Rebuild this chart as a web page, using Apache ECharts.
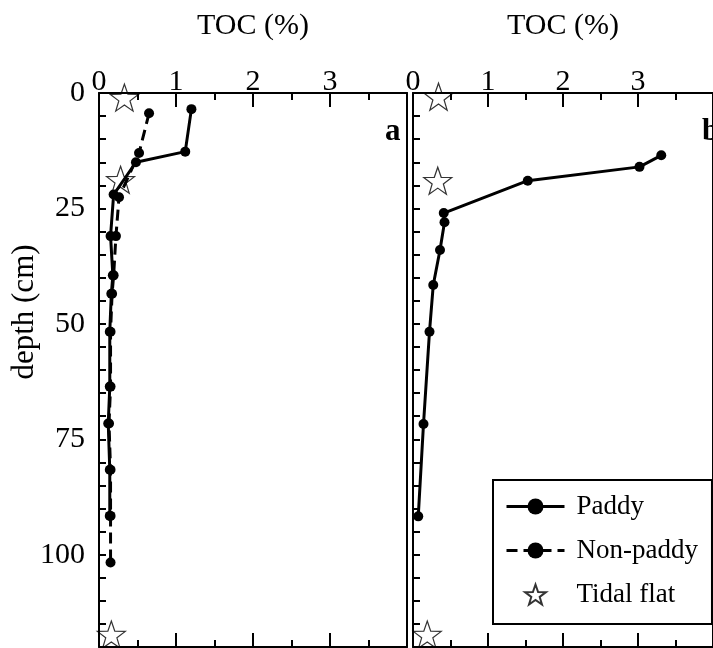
<!DOCTYPE html>
<html>
<head>
<meta charset="utf-8">
<script src="https://cdn.jsdelivr.net/npm/echarts@6/dist/echarts.min.js"></script>
<style>html,body{margin:0;padding:0;background:#fff;}#c{width:713px;height:648px;}</style>
</head>
<body>
<div id="c"></div>
<script>
// Panel a
const paddyA_depth = [3.5, 12.7, 15, 22, 31, 39.5, 43.5, 51.7, 63.6, 71.6, 81.6, 91.6];
const paddyA_toc   = [1.20, 1.12, 0.48, 0.19, 0.15, 0.18, 0.16, 0.14, 0.14, 0.12, 0.14, 0.14];
const nonPaddyA_depth = [4.4, 13, 22.6, 31, 39.5, 43.5, 51.7, 63.6, 71.6, 81.6, 91.6, 101.7];
const nonPaddyA_toc   = [0.65, 0.52, 0.26, 0.22, 0.19, 0.17, 0.15, 0.15, 0.13, 0.15, 0.15, 0.15];
const tidalA_depth = [1, 18.8, 117.3];
const tidalA_toc   = [0.33, 0.28, 0.16];
// Panel b
const paddyB_depth = [13.5, 16, 19, 26, 28, 34, 41.6, 51.7, 71.7, 91.7];
const paddyB_toc   = [3.31, 3.02, 1.53, 0.41, 0.42, 0.36, 0.27, 0.22, 0.14, 0.07];
const tidalB_depth = [0.8, 19, 117.3];
const tidalB_toc   = [0.34, 0.33, 0.19];
const xTicks = [0, 1, 2, 3];
const yTicks = [0, 25, 50, 75, 100];

const pair = (xs, ys) => xs.map((x, i) => [x, ys[i]]);
const FONT = 'Liberation Serif';
const STAR = 'path://M0,-10 L2.35,-3.24 L9.51,-3.09 L3.8,1.24 L5.88,8.09 L0,4 L-5.88,8.09 L-3.8,1.24 L-9.51,-3.09 L-2.35,-3.24 Z';

const chart = echarts.init(document.getElementById('c'));
const axLine = {show: true, onZero: false, lineStyle: {color: '#000', width: 2}};
function xTop(g, name) {
  return {
    gridIndex: g, type: 'value', position: 'top', min: 0, max: 4, interval: 1,
    name: name, nameLocation: 'middle', nameGap: 52,
    nameTextStyle: {fontFamily: FONT, fontSize: 30, color: '#000'},
    axisLine: axLine,
    axisTick: {show: true, inside: true, length: 14, lineStyle: {color: '#000', width: 2}},
    minorTick: {show: true, splitNumber: 2, length: 7, lineStyle: {color: '#000', width: 2}},
    axisLabel: {show: true, margin: -4, fontFamily: FONT, fontSize: 30, color: '#000',
      showMaxLabel: false,
      formatter: v => xTicks.indexOf(v) >= 0 ? String(v) : ''},
    splitLine: {show: false}, minorSplitLine: {show: false}
  };
}
function xBottom(g) {
  return {
    gridIndex: g, type: 'value', position: 'bottom', min: 0, max: 4, interval: 1,
    axisLine: axLine,
    axisTick: {show: true, inside: true, length: 14, lineStyle: {color: '#000', width: 2}},
    minorTick: {show: true, splitNumber: 2, length: 7, lineStyle: {color: '#000', width: 2}},
    axisLabel: {show: false}, splitLine: {show: false}
  };
}
function yLeft(g, labels) {
  return {
    gridIndex: g, type: 'value', position: 'left', inverse: true, min: 0, max: 120, interval: 5,
    axisLine: axLine,
    axisTick: {show: true, inside: true, length: 7, lineStyle: {color: '#000', width: 2}},
    axisLabel: {show: labels, margin: 14, fontFamily: FONT, fontSize: 30, color: '#000',
      formatter: v => yTicks.indexOf(v) >= 0 ? String(v) : ''},
    splitLine: {show: false}
  };
}
function yRight(g) {
  return {
    gridIndex: g, type: 'value', position: 'right', inverse: true, min: 0, max: 120, interval: 5,
    axisLine: axLine, axisTick: {show: false}, axisLabel: {show: false}, splitLine: {show: false}
  };
}
const lineSeries = (name, xi, yi, data, dashed) => ({
  name, type: 'line', xAxisIndex: xi, yAxisIndex: yi, data,
  symbol: 'circle', symbolSize: 10, showSymbol: true,
  lineStyle: {color: '#000', width: 3, type: dashed ? [11, 6] : 'solid'},
  itemStyle: {color: '#000'}, z: 3
});
const starSeries = (xi, yi, data) => ({
  name: 'Tidal flat', type: 'scatter', xAxisIndex: xi, yAxisIndex: yi, data,
  symbol: STAR, symbolSize: [28, 27],
  itemStyle: {color: 'rgba(255,255,255,0)', borderColor: '#000', borderWidth: 1.2}, z: 4
});

chart.setOption({
  backgroundColor: '#fff',
  animation: false,
  grid: [
    {left: 99, top: 93, width: 308, height: 554},
    {left: 413, top: 93, width: 310, height: 554}
  ],
  xAxis: [xTop(0, 'TOC (%)'), xBottom(0), xTop(1, 'TOC (%)'), xBottom(1)],
  yAxis: [yLeft(0, true), yRight(0), yLeft(1, false), yRight(1)],
  legend: {
    orient: 'vertical', left: 493, top: 480,
    data: ['Paddy', 'Non-paddy', 'Tidal flat'],
    itemWidth: 58, itemHeight: 20, itemGap: 17,
    padding: [13, 14, 16, 12],
    borderColor: '#000', borderWidth: 2, backgroundColor: '#fff',
    lineStyle: {width: 3},
    textStyle: {fontFamily: FONT, fontSize: 27, color: '#000', padding: [0, 0, 0, 7]}
  },
  graphic: [
    {type: 'text', left: 385, top: 116, style: {text: 'a', font: 'bold 31px "Liberation Serif"', fill: '#000'}},
    {type: 'text', left: 702, top: 116, style: {text: 'b', font: 'bold 31px "Liberation Serif"', fill: '#000'}},
    {type: 'text', x: 25, y: 312, rotation: Math.PI / 2,
      style: {text: 'depth (cm)', font: '31px "Liberation Serif"', fill: '#000', align: 'center', verticalAlign: 'middle'}}
  ],
  series: [
    lineSeries('Paddy', 0, 0, pair(paddyA_toc, paddyA_depth), false),
    lineSeries('Non-paddy', 0, 0, pair(nonPaddyA_toc, nonPaddyA_depth), true),
    starSeries(0, 0, pair(tidalA_toc, tidalA_depth)),
    lineSeries('Paddy', 2, 2, pair(paddyB_toc, paddyB_depth), false),
    starSeries(2, 2, pair(tidalB_toc, tidalB_depth))
  ]
});
</script>
</body>
</html>
